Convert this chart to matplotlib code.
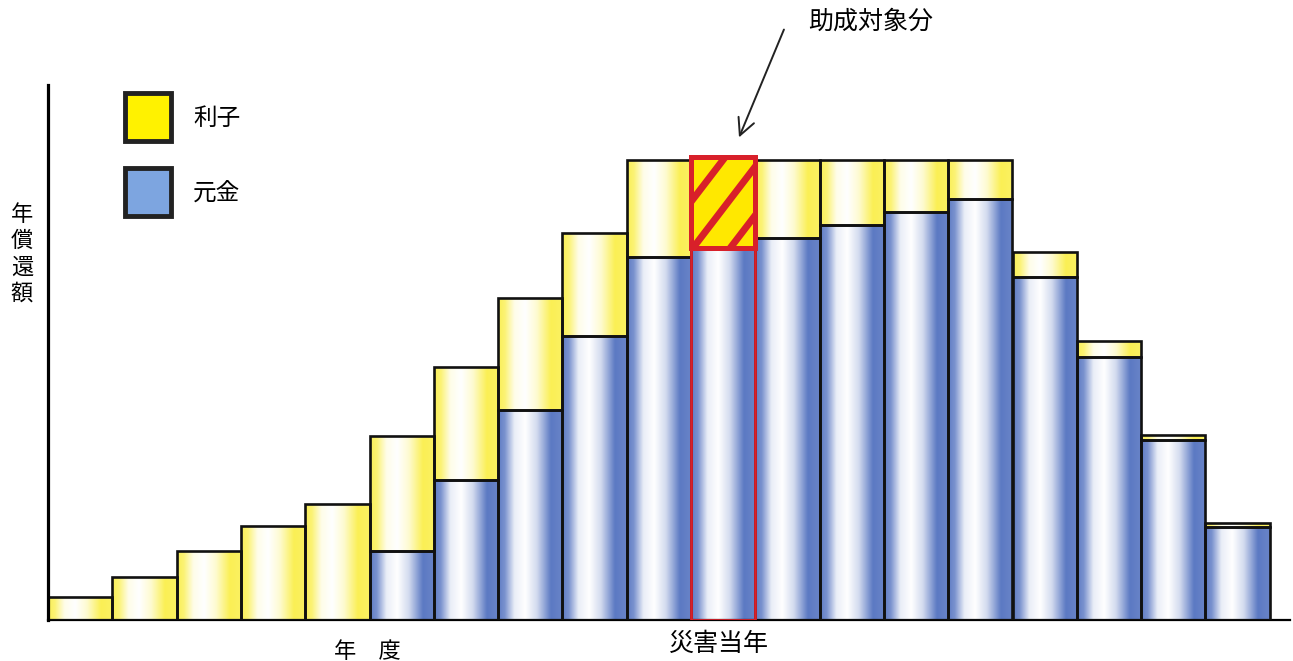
import numpy as np
import matplotlib.pyplot as plt
from matplotlib.patches import Rectangle

plt.rcParams['font.family'] = ['Noto Sans CJK JP', 'DejaVu Sans']

# データ (年度ごとの償還額: 元金と利子)
principal = [0, 0, 0, 0, 0, 6.9, 14.0, 21.0, 28.4, 36.3, 37.2,
             38.2, 39.5, 40.8, 42.1, 34.3, 26.3, 18.0, 9.3]
interest = [2.3, 4.3, 6.9, 9.4, 11.6, 11.5, 11.3, 11.2, 10.3, 9.7, 9.1,
            7.8, 6.5, 5.2, 3.9, 2.5, 1.6, 0.5, 0.4]
disaster_idx = 10  # 災害当年

legend_labels = ['利子', '元金']
yellow = np.array([250, 238, 70]) / 255
blue = np.array([78, 110, 190]) / 255
red = '#d8202a'

# 横方向のグラデーション (端は色、中央は白)
tp = [0.0, 0.1, 0.25, 0.42, 0.6, 0.82, 1.0]
wp = [0.9, 0.75, 0.12, 0.0, 0.25, 0.92, 0.85]


def grad_img(rgb, n=64):
    t = np.linspace(0, 1, n)
    w = np.interp(t, tp, wp)
    img = 1 - w[:, None] * (1 - rgb[None, :])
    return img[None, :, :]


W, H = 1293, 661
fig = plt.figure(figsize=(W / 100, H / 100), dpi=100)
ax = fig.add_axes([48 / W, 41 / H, (1290 - 48) / W, (620 - 85) / H])

x = np.arange(len(principal))
p = np.array(principal)
i = np.array(interest)

# 元金
bars_p = ax.bar(x, p, width=1.0, align='edge', fill=False,
                edgecolor='#111111', linewidth=1.9, zorder=3)
# 利子
bars_i = ax.bar(x, i, width=1.0, bottom=p, align='edge', fill=False,
                edgecolor='#111111', linewidth=1.9, zorder=3)

for k in x:
    if p[k] > 0:
        ax.imshow(grad_img(blue), extent=[k, k + 1, 0, p[k]], aspect='auto',
                  interpolation='bilinear', zorder=1)
    if k != disaster_idx:
        ax.imshow(grad_img(yellow), extent=[k, k + 1, p[k], p[k] + i[k]],
                  aspect='auto', interpolation='bilinear', zorder=1)

# 助成対象分 (災害当年の利子)
d = disaster_idx
sub = ax.bar([d], [i[d]], width=1.0, bottom=[p[d]], align='edge',
             color='#ffe800', edgecolor=red, linewidth=3.6, zorder=4)[0]
ax.bar([d], [p[d]], width=1.0, align='edge', fill=False,
       edgecolor=red, linewidth=2.0, zorder=4)
slope = 8.4
for off in [d - 0.55, d + 0.03, d + 0.61]:
    xs = np.array([off, off + i[d] * 1.2 / slope])
    ys = np.array([p[d], p[d] + i[d] * 1.2])
    ln, = ax.plot(xs, ys, color=red, lw=5.0, solid_capstyle='butt', zorder=4)
    ln.set_clip_path(sub)

ax.set_xlim(0, (1290 - 48) / 64.3)
ax.set_ylim(0, 53.5)
ax.set_xticks([])
ax.set_yticks([])
for s in ['top', 'right']:
    ax.spines[s].set_visible(False)
ax.spines['left'].set_linewidth(2.3)
ax.spines['bottom'].set_linewidth(1.6)
ax.spines['left'].set_zorder(5)

# 凡例
for (y0, c), lab in zip([(93, '#fff200'), (168, '#7da5e0')], legend_labels):
    fig.add_artist(Rectangle(((125) / W, (H - y0 - 48) / H), 46 / W, 48 / H,
                             transform=fig.transFigure, facecolor=c,
                             edgecolor='#222222', linewidth=3.5))
    fig.text(193 / W, (H - y0 - 25) / H, lab, fontsize=17, va='center', ha='left')

# ラベル
fig.text(22 / W, (H - 254) / H, '年\n償\n還\n額', fontsize=16, ha='center',
         va='center', linespacing=1.18)
fig.text(367 / W, (H - 651) / H, '年　度', fontsize=16, ha='center', va='center')
fig.text(719 / W, (H - 644) / H, '災害当年', fontsize=18, ha='center', va='center')
fig.text(871 / W, (H - 22) / H, '助成対象分', fontsize=18, ha='center', va='center')

ax.annotate('', xy=(10.73, 48.0), xytext=(785, H - 27),
            textcoords='figure pixels',
            arrowprops=dict(arrowstyle='->', color='#222222', lw=1.4,
                            mutation_scale=30))

fig.savefig('out.png', dpi=100)
